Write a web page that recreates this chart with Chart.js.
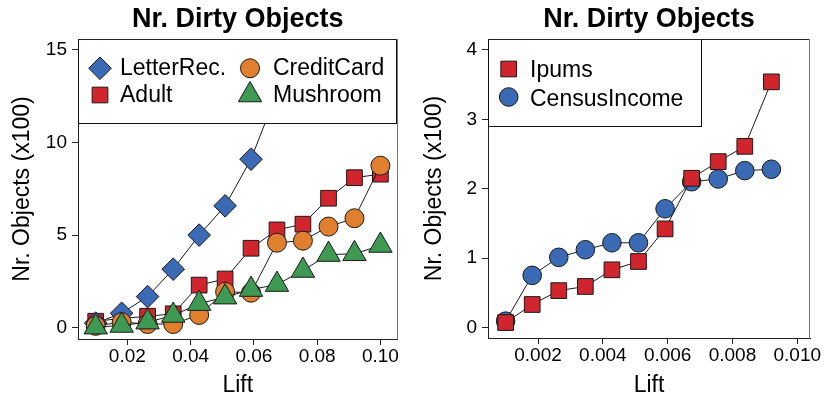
<!DOCTYPE html>
<html lang="en">
<head>
<meta charset="UTF-8">
<title>Nr. Dirty Objects</title>
<script src="https://cdn.jsdelivr.net/npm/chart.js"></script>
<style>
  html, body { margin: 0; padding: 0; background: #fff; }
  .painel { position: absolute; top: 0; width: 412px; height: 399px; }
</style>
</head>
<body>

<div class="painel" style="left:0"><canvas id="graficoEsq" width="412" height="399"></canvas></div>
<div class="painel" style="left:412px"><canvas id="graficoDir" width="412" height="399"></canvas></div>

<script>
// left panel: lift thresholds and dirty objects (x100)
const liftEsq = [0.01, 0.0182, 0.0264, 0.0345, 0.0427, 0.0509, 0.0591, 0.0673, 0.0755, 0.0836, 0.0918, 0.1];
const letterRec  = [0.25, 0.78, 1.68, 3.16, 5.0, 6.58, 9.1, 12.7, 15.4, 18.3, 21.5, 25.0];
const adult      = [0.35, 0.5, 0.62, 0.75, 2.3, 2.63, 4.29, 5.28, 5.59, 6.99, 8.1, 8.29];
const creditCard = [0.1, 0.3, 0.2, 0.2, 0.69, 1.94, 1.89, 4.59, 4.7, 5.46, 5.91, 8.75];
const mushroom   = [0.03, 0.12, 0.3, 0.66, 1.3, 1.65, 2.06, 2.33, 3.09, 3.95, 3.99, 4.44];

// right panel
const liftDir = [0.001, 0.00182, 0.00264, 0.00346, 0.00428, 0.0051, 0.00592, 0.00674, 0.00756, 0.00838, 0.0092];
const ipums        = [0.07, 0.33, 0.53, 0.59, 0.83, 0.95, 1.42, 2.15, 2.39, 2.61, 3.54];
const censusIncome = [0.09, 0.75, 1.01, 1.12, 1.22, 1.22, 1.71, 2.10, 2.14, 2.26, 2.28];

// ticks
const xTicksEsq = [0.02, 0.04, 0.06, 0.08, 0.10];
const xLabelsEsq = ['0.02', '0.04', '0.06', '0.08', '0.10'];
const yTicksEsq = [0, 5, 10, 15];
const yLabelsEsq = ['0', '5', '10', '15'];
const xTicksDir = [0.002, 0.004, 0.006, 0.008, 0.010];
const xLabelsDir = ['0.002', '0.004', '0.006', '0.008', '0.010'];
const yTicksDir = [0, 1, 2, 3, 4];
const yLabelsDir = ['0', '1', '2', '3', '4'];

const AZUL = '#3a6ab4';
const VERMELHO = '#d0252c';
const LARANJA = '#e07f2e';
const VERDE = '#3e9a52';
const TRACO = '#1a1a1a';

Chart.defaults.font.family = "'Liberation Sans', Arial, Helvetica, sans-serif";
Chart.defaults.color = '#000';

function pontos(xs, ys) {
  return xs.map((x, i) => ({ x: x, y: ys[i] }));
}

function serie(nome, xs, ys, cor, estilo, raio, ordem) {
  return {
    label: nome,
    data: pontos(xs, ys),
    borderColor: TRACO,
    borderWidth: 1,
    backgroundColor: cor,
    pointBackgroundColor: cor,
    pointBorderColor: TRACO,
    pointBorderWidth: 1,
    pointStyle: estilo,
    pointRadius: raio,
    pointHoverRadius: raio,
    order: ordem,
    clip: 0
  };
}

// title, legend box and frame drawn over the plot
const moldura = {
  id: 'moldura',
  afterDatasetsDraw(chart, args, opts) {
    const ctx = chart.ctx;
    const a = chart.chartArea;
    ctx.save();

    // legend
    const x0 = Math.round(a.left) + 0.5, y0 = Math.round(a.top) + 0.5;
    const x1 = Math.round(a.left + opts.largura) + 0.5, y1 = Math.round(a.top + opts.altura) + 0.5;
    ctx.fillStyle = '#fff';
    ctx.fillRect(x0, y0, x1 - x0, y1 - y0);
    ctx.strokeStyle = '#111';
    ctx.lineWidth = 1;
    ctx.strokeRect(x0, y0, x1 - x0, y1 - y0);

    ctx.font = "23px 'Liberation Sans', Arial, sans-serif";
    ctx.textAlign = 'left';
    ctx.textBaseline = 'alphabetic';
    opts.itens.forEach(it => {
      const ds = chart.data.datasets[it.ds];
      ctx.fillStyle = ds.pointBackgroundColor;
      ctx.strokeStyle = TRACO;
      ctx.lineWidth = 1;
      Chart.helpers.drawPoint(ctx, {
        pointStyle: ds.pointStyle, radius: ds.pointRadius, rotation: 0, borderWidth: 1
      }, a.left + it.sx, a.top + it.sy);
      ctx.fillStyle = '#000';
      ctx.fillText(ds.label, a.left + it.tx, a.top + it.ty);
    });

    // box around the plotting region
    ctx.strokeStyle = '#222';
    ctx.beginPath();
    ctx.moveTo(Math.round(a.left) + 0.5, Math.round(a.top) + 0.5);
    ctx.lineTo(Math.round(a.right) - 0.5, Math.round(a.top) + 0.5);
    ctx.stroke();
    ctx.strokeStyle = '#777';
    ctx.beginPath();
    ctx.moveTo(Math.round(a.right) - 0.5, Math.round(a.top) + 0.5);
    ctx.lineTo(Math.round(a.right) - 0.5, Math.round(a.bottom) + 0.5);
    ctx.stroke();

    // title
    ctx.fillStyle = '#000';
    ctx.font = "bold 27px 'Liberation Sans', Arial, sans-serif";
    ctx.textAlign = 'center';
    ctx.fillText('Nr. Dirty Objects', (a.left + a.right) / 2, 27);
    ctx.restore();
  }
};

function eixos(xMin, xMax, xTicks, xLabels, yMin, yMax, yTicks, yLabels, larguraY, alturaX) {
  const grade = { display: true, drawOnChartArea: false, drawTicks: true, tickLength: 6, color: '#222' };
  const borda = { display: true, color: '#222', width: 1 };
  return {
    x: {
      type: 'linear',
      min: xMin,
      max: xMax,
      grid: grade,
      border: borda,
      afterBuildTicks: s => { s.ticks = xTicks.map(v => ({ value: v })); },
      afterFit: s => { s.height = alturaX; },
      ticks: {
        font: { size: 19 },
        color: '#000',
        padding: 0,
        maxRotation: 0,
        autoSkip: false,
        callback: (v, i) => xLabels[i]
      },
      title: {
        display: true,
        text: 'Lift',
        font: { size: 23 },
        color: '#000',
        padding: { top: 0, bottom: 0 }
      }
    },
    y: {
      type: 'linear',
      min: yMin,
      max: yMax,
      grid: grade,
      border: borda,
      afterBuildTicks: s => { s.ticks = yTicks.map(v => ({ value: v })); },
      afterFit: s => { s.width = larguraY; },
      ticks: {
        font: { size: 19 },
        color: '#000',
        padding: 5,
        autoSkip: false,
        callback: (v, i) => yLabels[i]
      },
      title: {
        display: true,
        text: 'Nr. Objects (x100)',
        font: { size: 23 },
        color: '#000',
        padding: { top: 9, bottom: 0 }
      }
    }
  };
}

new Chart(document.getElementById('graficoEsq'), {
  type: 'line',
  data: {
    datasets: [
      serie('LetterRec.', liftEsq, letterRec, AZUL, 'rectRot', 11.3, 2),
      serie('Adult', liftEsq, adult, VERMELHO, 'rect', 11.1, 3),
      serie('CreditCard', liftEsq, creditCard, LARANJA, 'circle', 9.5, 1),
      serie('Mushroom', liftEsq, mushroom, VERDE, 'triangle', 13.5, 0)
    ]
  },
  options: {
    responsive: false,
    animation: false,
    devicePixelRatio: 1,
    layout: { padding: { top: 39, right: 12, left: 0, bottom: 0 } },
    scales: eixos(0.0044, 0.1054, xTicksEsq, xLabelsEsq, -0.61, 15.59, yTicksEsq, yLabelsEsq, 78, 60),
    plugins: {
      legend: { display: false },
      tooltip: { enabled: false },
      moldura: {
        largura: 318,
        altura: 84,
        itens: [
          { ds: 0, sx: 22, sy: 29.3, tx: 42, ty: 36 },
          { ds: 1, sx: 22, sy: 56, tx: 42, ty: 62.7 },
          { ds: 2, sx: 172, sy: 29.3, tx: 195, ty: 36 },
          { ds: 3, sx: 172, sy: 56, tx: 195, ty: 62.7 }
        ]
      }
    }
  },
  plugins: [moldura]
});

new Chart(document.getElementById('graficoDir'), {
  type: 'line',
  data: {
    datasets: [
      serie('Ipums', liftDir, ipums, VERMELHO, 'rect', 11.1, 0),
      serie('CensusIncome', liftDir, censusIncome, AZUL, 'circle', 9.3, 1)
    ]
  },
  options: {
    responsive: false,
    animation: false,
    devicePixelRatio: 1,
    layout: { padding: { top: 39, right: 14, left: 0, bottom: 0 } },
    scales: eixos(0.000456, 0.010392, xTicksDir, xLabelsDir, -0.153, 4.158, yTicksDir, yLabelsDir, 76, 61),
    plugins: {
      legend: { display: false },
      tooltip: { enabled: false },
      moldura: {
        largura: 213,
        altura: 87,
        itens: [
          { ds: 0, sx: 20.7, sy: 30, tx: 42, ty: 38.3 },
          { ds: 1, sx: 20.7, sy: 58, tx: 42, ty: 67 }
        ]
      }
    }
  },
  plugins: [moldura]
});
</script>
</body>
</html>
